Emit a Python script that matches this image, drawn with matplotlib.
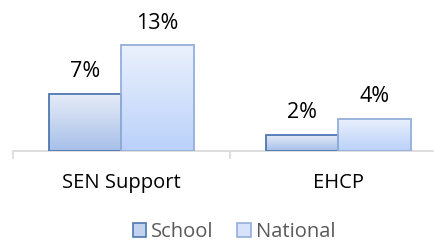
import matplotlib.pyplot as plt
import numpy as np
from matplotlib.colors import LinearSegmentedColormap
from matplotlib.patches import Patch

categories = ["SEN Support", "EHCP"]
series = ["School", "National"]
school = [7, 2]
national = [13, 4]

plt.rcParams['font.family'] = ['Open Sans', 'DejaVu Sans']

fig = plt.figure(figsize=(4.35, 2.44), dpi=100)
ax = fig.add_axes([13 / 435, 93 / 244, 434 / 435, 130 / 244])

x = np.arange(len(categories))
w = 0.333

styles = {
    "School": dict(top="#e6ecf7", bottom="#a7bfe9", edge="#4e77b0"),
    "National": dict(top="#ebf1fd", bottom="#bad1fa", edge="#94afda"),
}

grad = np.linspace(0, 1, 256).reshape(-1, 1)

def gradient_bars(xs, vals, st, label):
    bars = ax.bar(xs, vals, w, facecolor="none", edgecolor=st["edge"],
                  linewidth=1.3, label=label, zorder=3)
    cmap = LinearSegmentedColormap.from_list("g", [st["bottom"], st["top"]])
    for b in bars:
        bx, by = b.get_x(), b.get_y()
        im = ax.imshow(grad, cmap=cmap, aspect="auto", origin="lower",
                       extent=[bx, bx + b.get_width(), by, by + b.get_height()],
                       zorder=2)
        im.set_clip_path(b)
    return bars

b1 = gradient_bars(x - w / 2, school, styles["School"], "School")
b2 = gradient_bars(x + w / 2, national, styles["National"], "National")

# value labels
for bars, vals in [(b1, school), (b2, national)]:
    for b, v in zip(bars, vals):
        ax.annotate(f"{v}%", (b.get_x() + b.get_width() / 2, v),
                    xytext=(0, 8.5), textcoords="offset points",
                    ha="center", va="bottom", fontsize=15.5, color="#000000")

ax.set_xlim(-0.5, 1.5)
ax.set_ylim(0, 16)
ax.set_yticks([])
for s in ["top", "right", "left"]:
    ax.spines[s].set_visible(False)
ax.spines["bottom"].set_color("#d9d9d9")
ax.spines["bottom"].set_linewidth(1.2)

# category dividers as major ticks, names as minor ticks
ax.set_xticks([-0.5, 0.5, 1.5])
ax.set_xticklabels([])
ax.tick_params(axis="x", which="major", length=6, width=1.2, color="#d9d9d9")
ax.set_xticks(x, minor=True)
ax.set_xticklabels(categories, minor=True, fontsize=14.5)
ax.tick_params(axis="x", which="minor", length=0, pad=16)

handles = [Patch(facecolor="#c3d3ef", edgecolor=styles["School"]["edge"], linewidth=1.2),
           Patch(facecolor="#d6e3fb", edgecolor=styles["National"]["edge"], linewidth=1.2)]
fig.legend(handles, series, loc="center", bbox_to_anchor=(234 / 435, 1 - 232 / 244),
           ncol=2, frameon=False, fontsize=14.5, handlelength=0.67, handleheight=0.67,
           handletextpad=0.25, columnspacing=1.15, labelcolor="#595959",
           borderpad=0, borderaxespad=0)

fig.savefig("out.png", dpi=100)
